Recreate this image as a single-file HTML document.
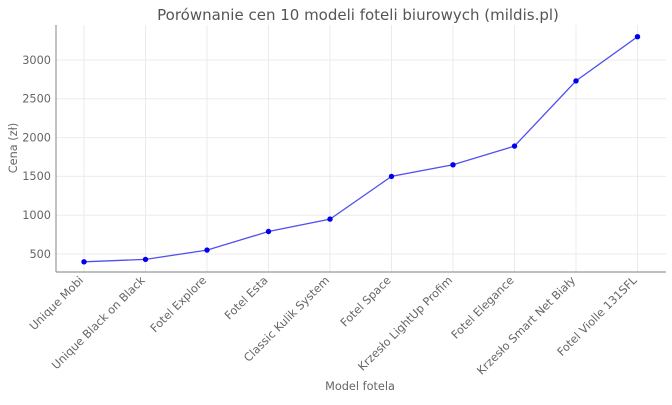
<!DOCTYPE html>
<html><head><style>body{margin:0;background:#fff}svg{font-family:"DejaVu Sans","Liberation Sans",sans-serif}</style></head><body>
<svg width="672" height="400" xmlns="http://www.w3.org/2000/svg">
<text x="358" y="20" font-size="15" fill="#555" text-anchor="middle">Porównanie cen 10 modeli foteli biurowych (mildis.pl)</text>
<g stroke="#ebebeb" stroke-width="1">
<line x1="56" x2="666" y1="254" y2="254"/><line x1="56" x2="666" y1="215.2" y2="215.2"/><line x1="56" x2="666" y1="176.4" y2="176.4"/><line x1="56" x2="666" y1="137.6" y2="137.6"/><line x1="56" x2="666" y1="98.8" y2="98.8"/><line x1="56" x2="666" y1="60" y2="60"/>
<line x1="84" x2="84" y1="25" y2="272"/><line x1="145.5" x2="145.5" y1="25" y2="272"/><line x1="207" x2="207" y1="25" y2="272"/><line x1="268.5" x2="268.5" y1="25" y2="272"/><line x1="330" x2="330" y1="25" y2="272"/><line x1="391.5" x2="391.5" y1="25" y2="272"/><line x1="453" x2="453" y1="25" y2="272"/><line x1="514.5" x2="514.5" y1="25" y2="272"/><line x1="576" x2="576" y1="25" y2="272"/><line x1="637.5" x2="637.5" y1="25" y2="272"/>
</g>
<line x1="56" x2="56" y1="25" y2="272" stroke="#999" stroke-width="1.2"/>
<line x1="56" x2="666" y1="272" y2="272" stroke="#999" stroke-width="1.2"/>
<g font-size="11.3" fill="#666" text-anchor="end">
<text x="51" y="258">500</text><text x="51" y="219">1000</text><text x="51" y="180">1500</text><text x="51" y="141.5">2000</text><text x="51" y="102.5">2500</text><text x="51" y="64">3000</text>
</g>
<text transform="translate(17,148) rotate(-90)" font-size="11.3" fill="#666" text-anchor="middle">Cena (zł)</text>
<g font-size="11.3" fill="#666" text-anchor="end">
<text transform="translate(84,281) rotate(-45)">Unique Mobi</text>
<text transform="translate(145.5,281) rotate(-45)">Unique Black on Black</text>
<text transform="translate(207,281) rotate(-45)">Fotel Explore</text>
<text transform="translate(268.5,281) rotate(-45)">Fotel Esta</text>
<text transform="translate(330,281) rotate(-45)">Classic Kulik System</text>
<text transform="translate(391.5,281) rotate(-45)">Fotel Space</text>
<text transform="translate(453,281) rotate(-45)">Krzesło LightUp Profim</text>
<text transform="translate(514.5,281) rotate(-45)">Fotel Elegance</text>
<text transform="translate(576,281) rotate(-45)">Krzesło Smart Net Biały</text>
<text transform="translate(637.5,281) rotate(-45)">Fotel Violle 131SFL</text>
</g>
<text x="360" y="390" font-size="11.3" fill="#666" text-anchor="middle">Model fotela</text>
<polyline fill="none" stroke="#5050f0" stroke-width="1.3" points="84,261.8 145.5,259.4 207,250.1 268.5,231.5 330,219.1 391.5,176.4 453,164.8 514.5,146.1 576,80.9 637.5,36.7"/>
<g fill="#0000ee">
<circle cx="84" cy="261.8" r="2.7"/><circle cx="145.5" cy="259.4" r="2.7"/><circle cx="207" cy="250.1" r="2.7"/><circle cx="268.5" cy="231.5" r="2.7"/><circle cx="330" cy="219.1" r="2.7"/><circle cx="391.5" cy="176.4" r="2.7"/><circle cx="453" cy="164.8" r="2.7"/><circle cx="514.5" cy="146.1" r="2.7"/><circle cx="576" cy="80.9" r="2.7"/><circle cx="637.5" cy="36.7" r="2.7"/>
</g>
</svg>
</body></html>
